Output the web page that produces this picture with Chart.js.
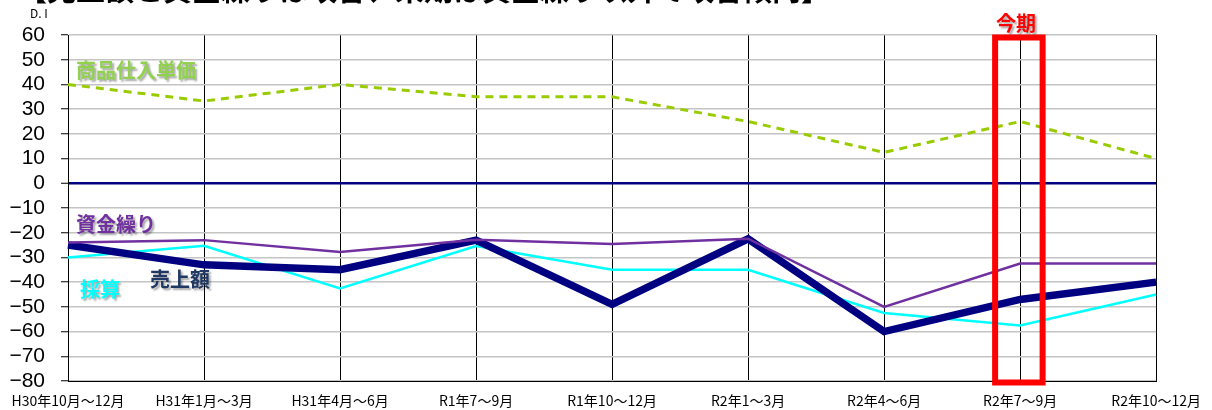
<!DOCTYPE html>
<html>
<head>
<meta charset="utf-8">
<script src="https://cdn.jsdelivr.net/npm/chart.js@4"></script>
<style>
  html, body { margin: 0; padding: 0; background: #fff; }
  #wrap { width: 1212px; height: 410px; position: relative; }
</style>
</head>
<body>
<div id="wrap"><canvas id="myChart" width="1212" height="410"></canvas></div>
<script>
const categories = ["H30年10月～12月", "H31年1月～3月", "H31年4月～6月", "R1年7～9月", "R1年10～12月", "R2年1～3月", "R2年4～6月", "R2年7～9月", "R2年10～12月"]
const priceValues = [40, 33.3, 40, 35, 35, 25, 12.5, 25, 10]          // 商品仕入単価
const fundsValues = [-24, -23, -27.8, -22.8, -24.6, -22.4, -50, -32.5, -32.5]  // 資金繰り
const salesValues = [-25, -33, -35, -23, -49, -22.5, -60, -47, -40]   // 売上額
const profitValues = [-30, -25.3, -42.5, -25.4, -35, -35, -52.5, -57.5, -45] // 採算
const yMin = -80
const yMax = 60
const yStep = 10
const currentIndex = 7

const titleText = "【売上額と資金繰りは改善、来期は資金繰り以外で改善傾向】"

// text labels drawn on the chart area
const seriesLabels = [
    { text: "商品仕入単価", color: "#92d050", value: 45.5, dx: 8 },
    { text: "資金繰り", color: "#7030a0", value: -16.5, dx: 8 },
    { text: "売上額", color: "#203864", value: -39, dx: 82 },
    { text: "採算", color: "#00ffff", value: -43, dx: 12 }
]

const overlay = {
    id: "overlay",
    afterDraw(chart) {
        const c = chart.ctx
        const x = chart.scales.x
        const y = chart.scales.y
        const area = chart.chartArea
        c.save()

        // cut-off heading
        c.font = "bold 29px 'Noto Sans CJK JP'"
        c.fillStyle = "#000"
        c.textBaseline = "alphabetic"
        c.textAlign = "left"
        c.fillText(titleText, 18, 1)

        c.font = "12px 'Noto Sans CJK JP'"
        c.textBaseline = "middle"
        c.fillText("D. I", 30, 13)

        // series names with shadow
        c.font = "bold 20px 'Noto Sans CJK JP'"
        c.shadowColor = "rgba(0,0,0,0.35)"
        c.shadowOffsetX = 2
        c.shadowOffsetY = 2
        c.shadowBlur = 2
        for (let lab of seriesLabels) {
            c.fillStyle = lab.color
            c.fillText(lab.text, area.left + lab.dx, y.getPixelForValue(lab.value))
        }

        // 今期 box
        const cx = x.getPixelForValue(currentIndex)
        c.fillStyle = "#ff0000"
        c.textAlign = "center"
        c.fillText("今期", cx - 4, 23)
        c.shadowColor = "transparent"
        c.strokeStyle = "#ff0000"
        c.lineWidth = 6
        c.strokeRect(cx - 25, area.top + 2.5, 47.5, area.bottom - area.top - 1)
        c.restore()
    }
}

const ctx = document.getElementById("myChart").getContext("2d")

const myChart = new Chart(ctx, {
    type: "line",
    data: {
        labels: categories,
        datasets: [
            { label: "資金繰り", data: fundsValues, borderColor: "#7030a0", borderWidth: 2.5 },
            { label: "売上額", data: salesValues, borderColor: "#000080", borderWidth: 7.5 },
            { label: "採算", data: profitValues, borderColor: "#00ffff", borderWidth: 2.5 },
            { label: "商品仕入単価", data: priceValues, borderColor: "#99cc00", borderWidth: 3, borderDash: [8, 6] }
        ]
    },
    options: {
        responsive: false,
        animation: false,
        layout: { padding: { left: 0, right: 55, top: 35, bottom: 0 } },
        elements: {
            point: { radius: 0 },
            line: { tension: 0, borderJoinStyle: "miter", fill: false }
        },
        plugins: {
            legend: { display: false },
            tooltip: { enabled: false }
        },
        scales: {
            x: {
                offset: false,
                afterFit: (scale) => { scale.height = 29 },
                border: { color: "#000", width: 1 },
                grid: { color: "#000", lineWidth: 1, drawTicks: false },
                ticks: {
                    color: "#000",
                    padding: 11,
                    maxRotation: 0,
                    autoSkip: false,
                    font: { family: "'Noto Sans CJK JP'", size: 14 }
                }
            },
            y: {
                min: yMin,
                max: yMax,
                afterFit: (scale) => { scale.width = 68 },
                border: { color: "#000", width: 1 },
                grid: {
                    color: (c) => c.tick && c.tick.value === 0 ? "#000080" : "#c4c4c4",
                    lineWidth: (c) => c.tick && c.tick.value === 0 ? 2.5 : 1.5,
                    tickColor: "#000",
                    tickWidth: 1,
                    tickLength: 7
                },
                ticks: {
                    stepSize: yStep,
                    autoSkip: false,
                    color: "#000",
                    padding: 16,
                    font: { family: "'Liberation Sans', Arial", size: 21 },
                    callback: (v) => v < 0 ? "\u2212" + Math.abs(v) : String(v)
                }
            }
        }
    },
    plugins: [overlay]
})
</script>
</body>
</html>
